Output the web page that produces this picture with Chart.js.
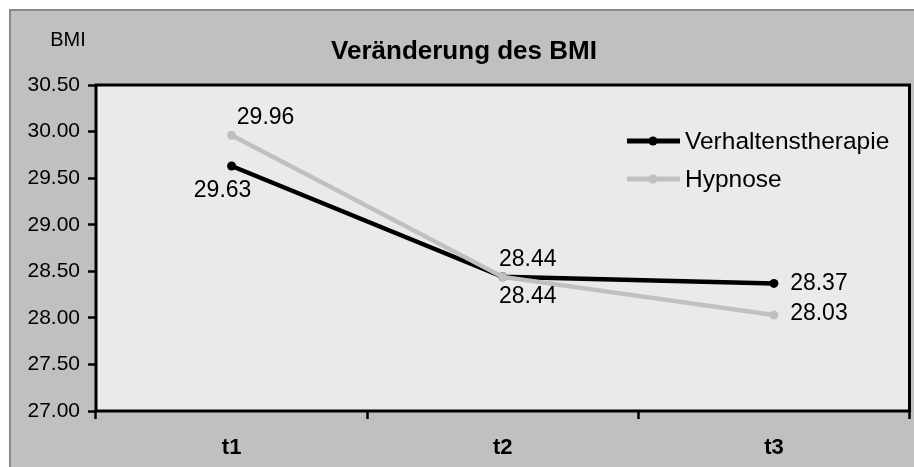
<!DOCTYPE html>
<html>
<head>
<meta charset="utf-8">
<script src="https://cdn.jsdelivr.net/npm/chart.js@4"></script>
<style>
  html, body { margin: 0; padding: 0; background: #fff; }
  #wrap { width: 914px; height: 467px; position: relative; }
</style>
</head>
<body>
<div id="wrap"><canvas id="chart"></canvas></div>
<script>
const categories = ['t1', 't2', 't3']
const verhaltenstherapie = [29.63, 28.44, 28.37]
const hypnose = [29.96, 28.44, 28.03]
const yTicks = { min: 27, max: 30.5, step: 0.5 }

// label offsets from the point centre, per dataset / per point
const labelOffsets = [
  [[-9, 25], [25, -17], [45, 0]],
  [[34, -18], [25, 20], [45, -1]],
]

const FONT = '"Liberation Sans", Arial, sans-serif'

const framePlugin = {
  id: 'frame',
  beforeDraw(chart) {
    const { ctx, chartArea: a } = chart
    ctx.save()
    ctx.fillStyle = '#ffffff'
    ctx.fillRect(0, 0, chart.width, chart.height)
    ctx.fillStyle = '#c0c0c0'
    ctx.fillRect(10, 10, chart.width, chart.height)
    ctx.strokeStyle = '#8a8a8a'
    ctx.lineWidth = 2
    ctx.beginPath()
    ctx.moveTo(10, chart.height + 5)
    ctx.lineTo(10, 10)
    ctx.lineTo(chart.width + 5, 10)
    ctx.stroke()
    ctx.fillStyle = '#eaeaea'
    ctx.fillRect(a.left, a.top, a.right - a.left, a.bottom - a.top)
    ctx.restore()
  },
  beforeDatasetsDraw(chart) {
    const { ctx, chartArea: a } = chart
    ctx.save()
    ctx.strokeStyle = '#000'
    ctx.lineWidth = 3
    ctx.strokeRect(a.left, a.top, a.right - a.left, a.bottom - a.top)
    ctx.restore()
  },
  afterDraw(chart) {
    const { ctx } = chart
    ctx.save()
    ctx.fillStyle = '#000'
    ctx.textAlign = 'center'
    ctx.textBaseline = 'middle'
    ctx.font = 'bold 26px ' + FONT
    ctx.fillText('Veränderung des BMI', 464, 52)
    ctx.font = '20px ' + FONT
    ctx.fillText('BMI', 68, 40)

    // data labels
    ctx.font = '23px ' + FONT
    chart.data.datasets.forEach((ds, i) => {
      const meta = chart.getDatasetMeta(i)
      meta.data.forEach((pt, j) => {
        const [dx, dy] = labelOffsets[i][j]
        ctx.fillText(ds.data[j].toFixed(2), pt.x + dx, pt.y + dy)
      })
    })

    // legend inside plot
    ctx.textAlign = 'left'
    ctx.font = '24.5px ' + FONT
    chart.data.datasets.forEach((ds, i) => {
      const y = 141 + i * 38
      ctx.strokeStyle = ds.borderColor
      ctx.lineWidth = 5
      ctx.beginPath()
      ctx.moveTo(627, y)
      ctx.lineTo(680, y)
      ctx.stroke()
      ctx.fillStyle = ds.borderColor
      ctx.beginPath()
      ctx.arc(653, y, 4.5, 0, Math.PI * 2)
      ctx.fill()
      ctx.fillStyle = '#000'
      ctx.fillText(ds.label, 685, y + 1)
    })
    ctx.restore()
  }
}

new Chart(document.getElementById('chart').getContext('2d'), {
  type: 'line',
  data: {
    labels: categories,
    datasets: [
      {
        label: 'Verhaltenstherapie',
        data: verhaltenstherapie,
        borderColor: '#000000',
        backgroundColor: '#000000',
        borderWidth: 4.5,
        pointRadius: 4.5,
        pointBorderWidth: 0,
        order: 1,
      },
      {
        label: 'Hypnose',
        data: hypnose,
        borderColor: '#c0c0c0',
        backgroundColor: '#c0c0c0',
        borderWidth: 4.5,
        pointRadius: 4.5,
        pointBorderWidth: 0,
        order: 0,
      }
    ],
  },
  options: {
    responsive: true,
    maintainAspectRatio: false,
    animation: false,
    events: [],
    layout: { padding: { top: 85, right: 2, left: 0, bottom: 0 } },
    plugins: { legend: { display: false }, title: { display: false }, tooltip: { enabled: false } },
    scales: {
      x: {
        offset: true,
        afterFit: s => { s.height = 56 },
        border: { display: false },
        grid: { offset: true, drawOnChartArea: false, drawTicks: true, tickLength: 8, tickColor: '#000', tickWidth: 2.5 },
        ticks: { color: '#000', padding: 16, font: { family: FONT, size: 22, weight: 'bold' } },
      },
      y: {
        min: yTicks.min,
        max: yTicks.max,
        afterFit: s => { s.width = 96 },
        border: { display: false },
        grid: { drawOnChartArea: false, drawTicks: true, tickLength: 8, tickColor: '#000', tickWidth: 2.5 },
        ticks: { stepSize: yTicks.step, color: '#000', padding: 8, font: { family: FONT, size: 21 }, callback: v => v.toFixed(2) },
      }
    }
  },
  plugins: [framePlugin]
})
</script>
</body>
</html>
